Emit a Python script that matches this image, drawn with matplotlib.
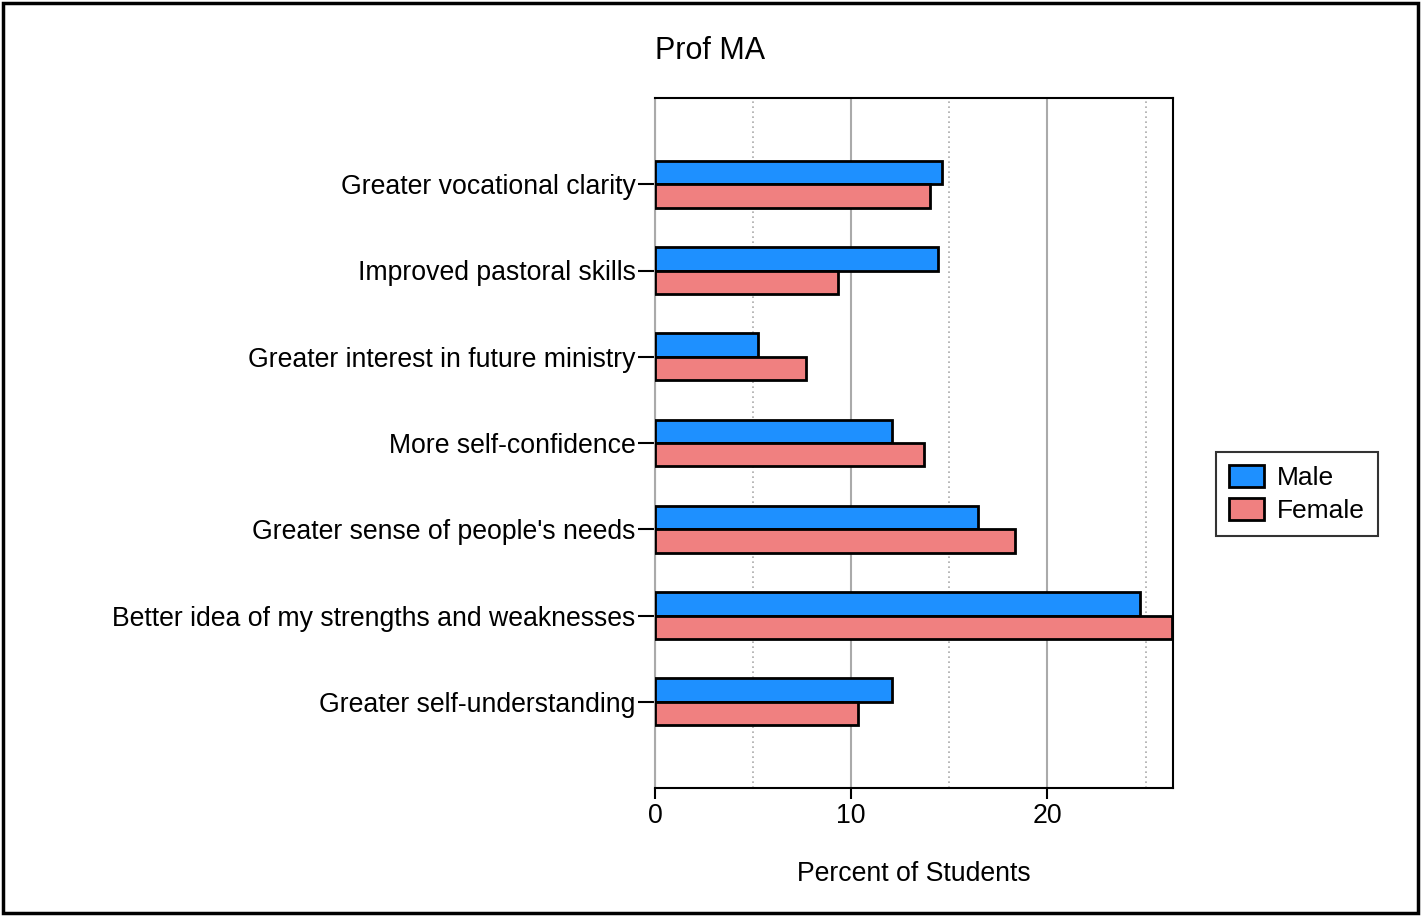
import numpy as np
import matplotlib
matplotlib.use('Agg')
import matplotlib.pyplot as plt
from matplotlib.patches import Rectangle

plt.rcParams['font.family'] = ['Liberation Sans', 'DejaVu Sans']

categories = ['Greater vocational clarity', 'Improved pastoral skills',
              'Greater interest in future ministry', 'More self-confidence',
              "Greater sense of people's needs",
              'Better idea of my strengths and weaknesses',
              'Greater self-understanding']
male = [14.64, 14.44, 5.26, 12.09, 16.48, 24.74, 12.09]
female = [14.03, 9.34, 7.70, 13.72, 18.37, 26.35, 10.36]

fig = plt.figure(figsize=(14.21, 9.16), dpi=100)
ax = fig.add_axes([655 / 1421, 1 - 788 / 916, (1173 - 655) / 1421, (788 - 98) / 916])

y = np.arange(len(categories))
h = 0.27
ax.barh(y - h / 2, male, height=h, color='#1e90ff', edgecolor='black', linewidth=2, label='Male', zorder=3)
ax.barh(y + h / 2, female, height=h, color='#f08080', edgecolor='black', linewidth=2, label='Female', zorder=3)

ax.set_ylim(len(categories), -1)
ax.set_xlim(0, 26.4)
ax.set_yticks(y)
ax.set_yticklabels(categories, fontsize=19.2)
ax.set_xticks([0, 10, 20])
ax.tick_params(axis='x', labelsize=19.2, length=8, width=1.5, pad=3)
ax.tick_params(axis='y', length=12, width=1.5, pad=2)

for v in [10, 20]:
    ax.axvline(v, color='#aaaaaa', linewidth=1.5, zorder=1)
for v in [5, 15, 25]:
    ax.axvline(v, color='#aaaaaa', linewidth=1.2, linestyle=(0, (1, 2)), zorder=1)
ax.axvline(0, color='#aaaaaa', linewidth=1.5, zorder=1)

for s in ['top', 'right', 'bottom']:
    ax.spines[s].set_linewidth(1.5)
ax.spines['left'].set_color('#aaaaaa')
ax.spines['left'].set_linewidth(1.5)

ax.set_xlabel('Percent of Students', fontsize=19.2, labelpad=23)
fig.text(655 / 1421, 1 - 51 / 916, 'Prof MA', fontsize=22, va='center', ha='left')

leg = fig.legend(loc='center left', bbox_to_anchor=(1216 / 1421, 1 - 494 / 916),
                 fontsize=19, frameon=True, fancybox=False, edgecolor='black',
                 handlelength=1.3, handleheight=0.9, borderpad=0.5, labelspacing=0.3,
                 handletextpad=0.5, borderaxespad=0)
leg.get_frame().set_linewidth(1.5)

fig.patches.append(Rectangle((3 / 1421, 3 / 916), 1 - 6 / 1421, 1 - 6 / 916,
                             transform=fig.transFigure, fill=False,
                             edgecolor='black', linewidth=2.5))

fig.savefig('out.png', dpi=100)
